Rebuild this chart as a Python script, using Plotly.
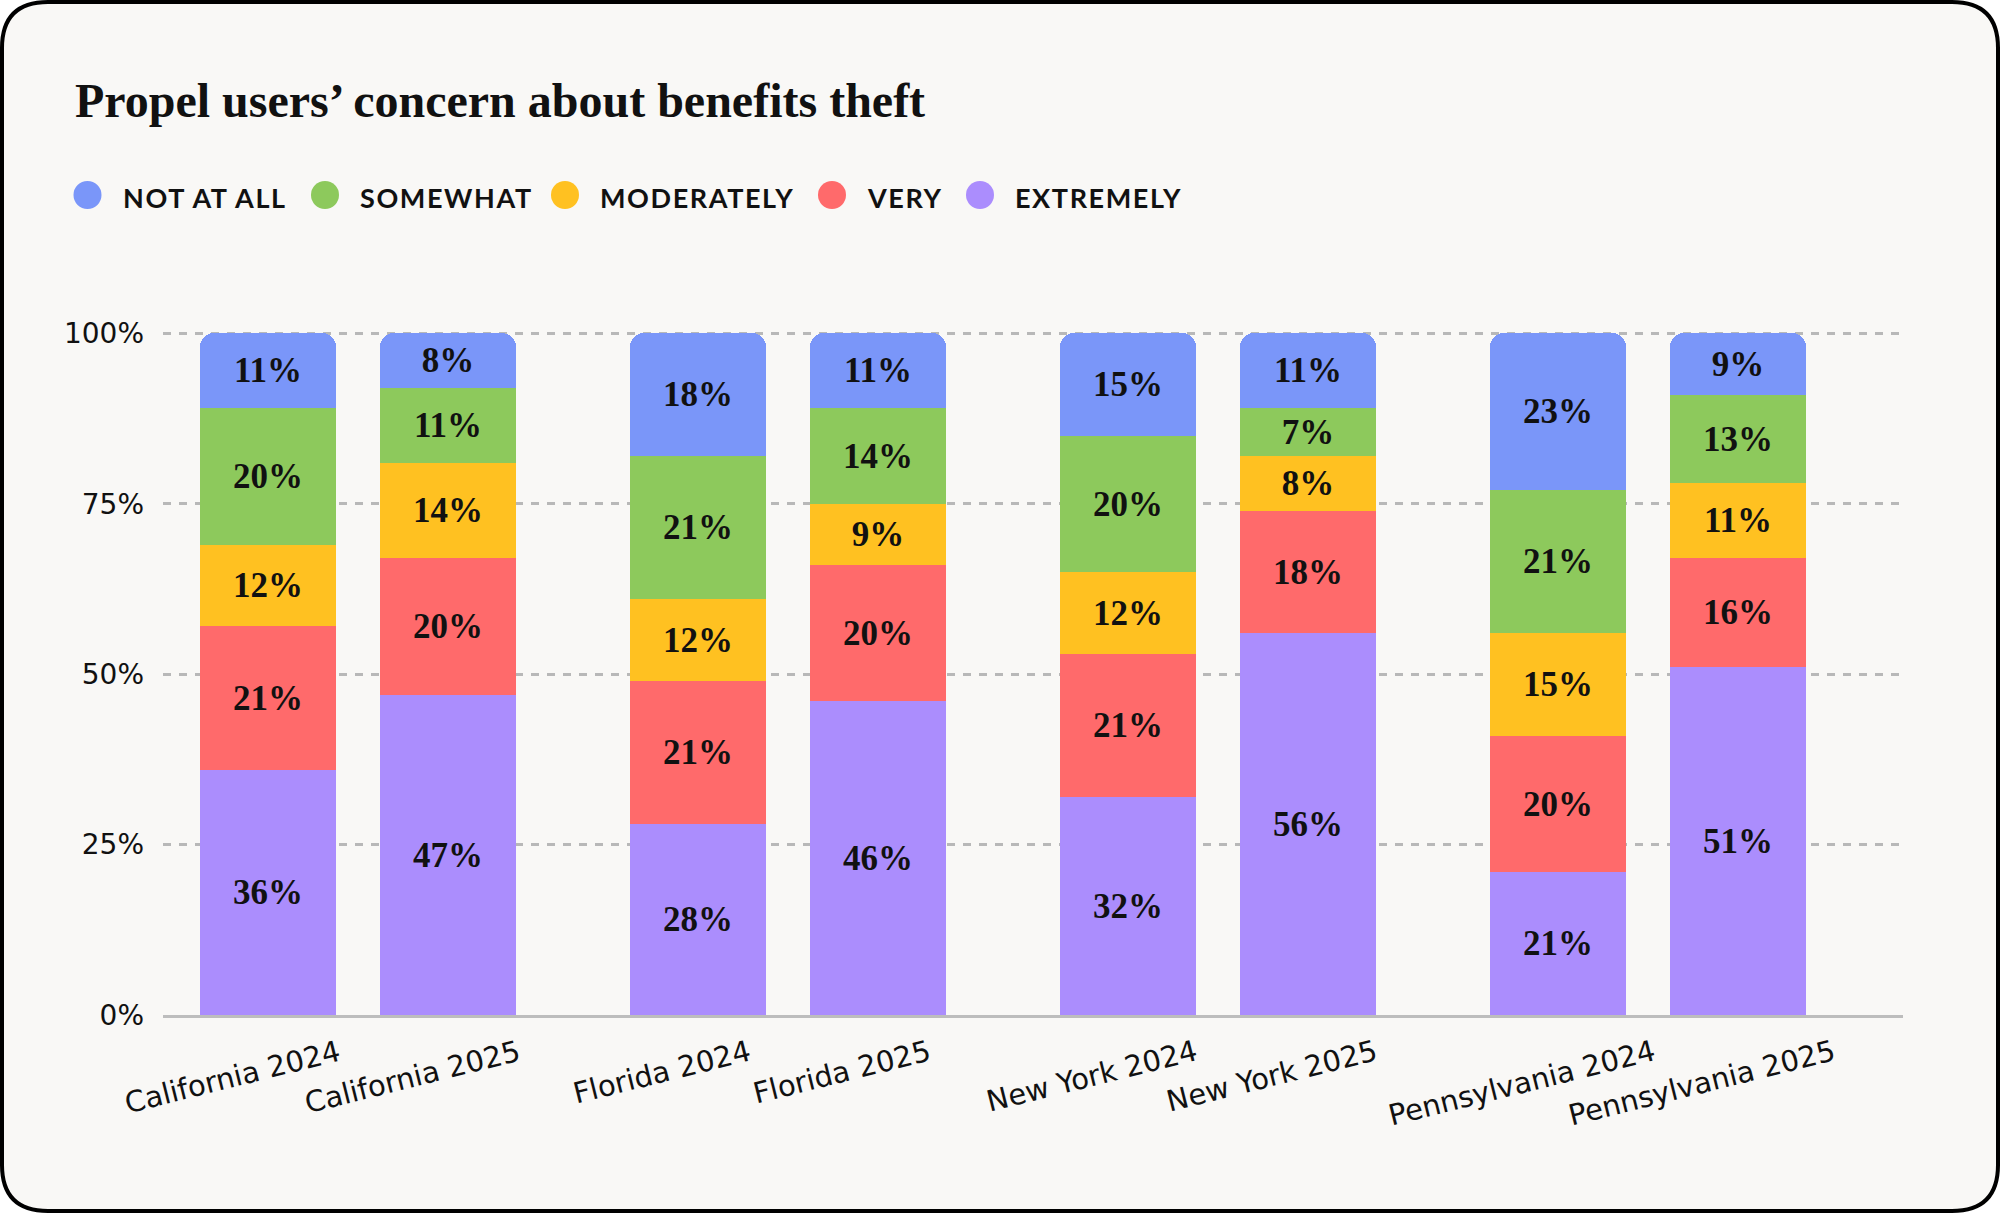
import plotly.graph_objects as go

# ---------------- data ----------------
categories = ["California 2024", "California 2025", "Florida 2024", "Florida 2025",
              "New York 2024", "New York 2025", "Pennsylvania 2024", "Pennsylvania 2025"]
levels = ["NOT AT ALL", "SOMEWHAT", "MODERATELY", "VERY", "EXTREMELY"]
not_at_all = [11, 8, 18, 11, 15, 11, 23, 9]
somewhat = [20, 11, 21, 14, 20, 7, 21, 13]
moderately = [12, 14, 12, 9, 12, 8, 15, 11]
very = [21, 20, 21, 20, 21, 18, 20, 16]
extremely = [36, 47, 28, 46, 32, 56, 21, 51]
y_ticks = [0, 25, 50, 75, 100]
title_text = "Propel users’ concern about benefits theft"

# ---------------- style / layout ----------------
W, H = 2000, 1213
Y_MAX = 100.5
ML, MR, MB = 163, 97, 198
PX_PER_UNIT = 6.82
PH = round(Y_MAX * PX_PER_UNIT)
MT = H - MB - PH
PW = W - ML - MR
colors = {"NOT AT ALL": "#7a96f9", "SOMEWHAT": "#8dc95c", "MODERATELY": "#ffc121",
          "VERY": "#ff6a6b", "EXTREMELY": "#ab8dfd"}
GROUP_PERIOD = 2.39   # distance between state groups (in bar-pitch units)
BAR_WIDTH = 0.756
BG = "#f9f8f6"
SANS = "DejaVu Sans"
SERIF = "Liberation Serif"

positions = [(i // 2) * GROUP_PERIOD + (i % 2) for i in range(len(categories))]


def pxx(x):
    return (x - ML) / PW


def pxy(y):
    return (H - MB - y) / PH


series = {"NOT AT ALL": not_at_all, "SOMEWHAT": somewhat, "MODERATELY": moderately,
          "VERY": very, "EXTREMELY": extremely}

fig = go.Figure()
# stack from bottom (EXTREMELY) to top (NOT AT ALL)
for lvl in reversed(levels):
    vals = series[lvl]
    fig.add_trace(go.Bar(
        x=positions, y=vals, name=lvl, width=BAR_WIDTH,
        marker=dict(color=colors[lvl], line=dict(width=0)),
        text=[f"{v}%" for v in vals], textposition="inside",
        insidetextanchor="middle", textangle=0,
        textfont=dict(family=SERIF, size=35, color="#111111", weight=700),
        hoverinfo="skip", showlegend=False,
    ))

shapes = []
# rounded card background
x0, y0, x1, y1, r = 2, 2, W - 2, H - 2, 46
pts = [
    ("M", (x0 + r, y0)), ("L", (x1 - r, y0)), ("Q", (x1, y0), (x1, y0 + r)),
    ("L", (x1, y1 - r)), ("Q", (x1, y1), (x1 - r, y1)), ("L", (x0 + r, y1)),
    ("Q", (x0, y1), (x0, y1 - r)), ("L", (x0, y0 + r)), ("Q", (x0, y0), (x0 + r, y0)),
]
path = ""
for seg in pts:
    cmd = seg[0]
    coords = " ".join(f"{pxx(p[0]):.6f},{pxy(p[1]):.6f}" for p in seg[1:])
    path += f"{cmd}{coords} "
path += "Z"
shapes.append(dict(type="path", path=path, xref="paper", yref="paper",
                   fillcolor=BG, line=dict(color="#000000", width=4), layer="below"))

annotations = []
# custom legend with round swatches
legend_dot_x = [87.5, 325, 565, 832, 980]
legend_y = 197
for lvl, dx in zip(levels, legend_dot_x):
    shapes.append(dict(type="circle", xref="paper", yref="paper",
                       xsizemode="pixel", ysizemode="pixel",
                       xanchor=pxx(dx), yanchor=pxy(legend_y - 2),
                       x0=-14, x1=14, y0=-14, y1=14,
                       fillcolor=colors[lvl], line=dict(width=0)))
    annotations.append(dict(text=f"<span style='letter-spacing:1.6px'>{lvl}</span>",
                            xref="paper", yref="paper",
                            x=pxx(dx + 33), y=pxy(legend_y), xanchor="left", yanchor="middle",
                            showarrow=False,
                            font=dict(family="Lato", size=27, color="#111111", weight=700)))

# rotated category labels under the bars
for cat, xp in zip(categories, positions):
    annotations.append(dict(text=cat, x=xp, xref="x", y=0, yref="paper",
                            xanchor="center", yanchor="top", textangle=-14,
                            xshift=-36, yshift=-16, showarrow=False,
                            font=dict(family=SANS, size=29, color="#111111")))

fig.update_layout(
    width=W, height=H,
    margin=dict(l=ML, r=MR, t=MT, b=MB, autoexpand=False),
    paper_bgcolor="#ffffff", plot_bgcolor="rgba(0,0,0,0)",
    barmode="stack", barcornerradius=14, bargap=0,
    showlegend=False,
    title=dict(text=title_text, xref="container", yref="container",
               x=75 / W, xanchor="left", y=1 - 100 / H, yanchor="middle",
               font=dict(family=SERIF, size=48, color="#111111", weight=700)),
    xaxis=dict(range=[-0.586, 3 * GROUP_PERIOD + 1 + 0.92], showgrid=False,
               zeroline=False, showticklabels=False, ticks="",
               showline=True, linecolor="#bdbdbd", linewidth=2.5, fixedrange=True),
    yaxis=dict(range=[0, Y_MAX], tickvals=y_ticks, ticktext=[f"{v}%" for v in y_ticks],
               showgrid=True, gridcolor="#b8b8b8", gridwidth=2.5, griddash="8px,8px",
               zeroline=False, showline=False, ticks="", ticklabelstandoff=18,
               tickfont=dict(family=SANS, size=28, color="#111111"), fixedrange=True),
    shapes=shapes, annotations=annotations,
)

fig.write_html("out.html", config={"displayModeBar": False},
               post_script="document.body.style.margin='0';document.body.style.padding='0';")
